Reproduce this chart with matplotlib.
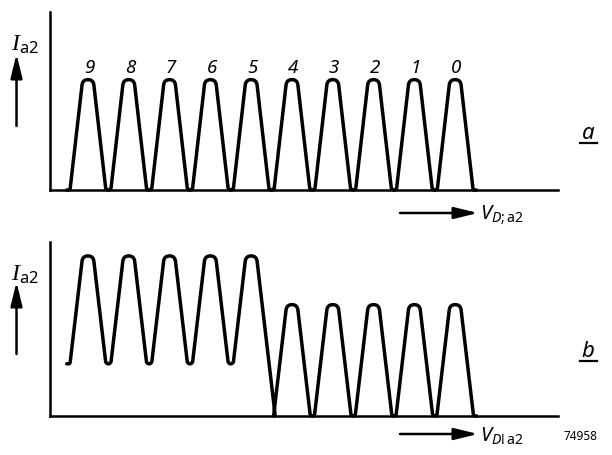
import numpy as np
import matplotlib
matplotlib.use('Agg')
import matplotlib.pyplot as plt
from matplotlib.path import Path
from matplotlib.patches import PathPatch, FancyArrowPatch
from matplotlib.lines import Line2D

# ---------------- data ----------------
digit_labels = ['9', '8', '7', '6', '5', '4', '3', '2', '1', '0']
peak_pos = [1, 2, 3, 4, 5, 6, 7, 8, 9, 10]
peaks_a = [0.62, 0.62, 0.62, 0.62, 0.62, 0.62, 0.62, 0.62, 0.62, 0.62]
# level before first pulse, between pulses, after last pulse
valleys_a = [0.0, 0.0, 0.0, 0.0, 0.0, 0.0, 0.0, 0.0, 0.0, 0.0, 0.0]
peaks_b = [0.92, 0.92, 0.92, 0.92, 0.92, 0.64, 0.64, 0.64, 0.64, 0.64]
valleys_b = [0.30, 0.30, 0.30, 0.30, 0.30, 0.0, 0.0, 0.0, 0.0, 0.0, 0.0]
panel_labels = ['a', 'b']
y_label = r'$\mathtt{I}_{\mathrm{a2}}$'
x_labels = [r'$V_{D;\mathrm{a2}}$', r'$V_{D!\mathrm{a2}}$']
fig_number = '74958'

# ---------------- style ----------------
W, H = 612, 456
TOP_HALF = 0.13     # half width of the pulse top (x units)
SLOPE = 0.50        # x units per y unit on the flanks
XLIM = (0.07, 12.52)
LW = 2.5
plt.rcParams['mathtext.fontset'] = 'custom'
plt.rcParams['mathtext.rm'] = 'Noto Sans:medium'
plt.rcParams['mathtext.it'] = 'Noto Sans:italic:medium'
plt.rcParams['mathtext.tt'] = 'Liberation Serif:italic'
plt.rcParams['font.family'] = ['Noto Sans', 'DejaVu Sans']

fig = plt.figure(figsize=(W / 100, H / 100), dpi=100)


def px_axes(left, right, top, bottom):
    return fig.add_axes([left / W, 1 - bottom / H, (right - left) / W, (bottom - top) / H])


def pulse_vertices(pos, peaks, valleys):
    xs, ys = [], []
    for i, (c, h) in enumerate(zip(pos, peaks)):
        lo_l, lo_r = valleys[i], valleys[i + 1]
        xl = c - TOP_HALF - SLOPE * (h - lo_l)
        xr = c + TOP_HALF + SLOPE * (h - lo_r)
        if i == 0:
            xs.append(xl - 0.08); ys.append(lo_l)
        xs += [xl, c - TOP_HALF, c + TOP_HALF, xr]
        ys += [lo_l, h, h, lo_r]
    xs.append(xs[-1] + 0.08); ys.append(ys[-1])
    return xs, ys


def rounded_path(xs, ys, sx, sy, r):
    P = np.column_stack([np.asarray(xs) * sx, np.asarray(ys) * sy])
    verts, codes = [P[0]], [Path.MOVETO]
    for i in range(1, len(P) - 1):
        a, b, c = P[i - 1], P[i], P[i + 1]
        d1, d2 = a - b, c - b
        l1, l2 = np.hypot(*d1), np.hypot(*d2)
        if l1 < 1e-9 or l2 < 1e-9:
            continue
        rr = min(r, l1 / 2, l2 / 2)
        verts += [b + d1 / l1 * rr, b, b + d2 / l2 * rr]
        codes += [Path.LINETO, Path.CURVE3, Path.CURVE3]
    verts.append(P[-1]); codes.append(Path.LINETO)
    V = np.array(verts) / np.array([sx, sy])
    return Path(V, codes)


panels = [
    dict(box=(50, 558, 13, 191), peaks=peaks_a, valleys=valleys_a),
    dict(box=(50, 558, 243, 417), peaks=peaks_b, valleys=valleys_b),
]
axes = []
for p in panels:
    left, right, top, bottom = p['box']
    ax = px_axes(left, right, top, bottom)
    ax.set_xlim(*XLIM)
    ax.set_ylim(0, 1)
    for s in ['top', 'right']:
        ax.spines[s].set_visible(False)
    for s in ['left', 'bottom']:
        ax.spines[s].set_linewidth(1.8)
    ax.set_xticks([]); ax.set_yticks([])
    ax.patch.set_alpha(0)
    sx = (right - left) / (XLIM[1] - XLIM[0])
    sy = (bottom - top)
    xs, ys = pulse_vertices(peak_pos, p['peaks'], p['valleys'])
    path = rounded_path(xs, ys, sx, sy, 7)
    ax.add_patch(PathPatch(path, facecolor='none', edgecolor='black', lw=LW,
                           capstyle='round', joinstyle='round', clip_on=False))
    axes.append(ax)

# digit labels over the peaks of panel a
for x, h, t in zip(peak_pos, peaks_a, digit_labels):
    axes[0].text(x + 0.03, h + 0.02, t, ha='center', va='bottom', fontsize=13.5,
                 style='italic', fontweight='medium', color='black')


def fpx(x, y):
    return x / W, 1 - y / H


arrow_kw = dict(arrowstyle='-|>,head_length=0.9,head_width=0.22', lw=1.8, color='black',
                mutation_scale=16, shrinkA=0, shrinkB=0)

for k, (ytop, yarrow_tip, yarrow_tail, yx, ylab, yund) in enumerate(
        [(37, 55, 127, 214, 139, 144), (267, 283, 355, 435, 357, 362)]):
    # y label with arrow
    fig.text(*fpx(11, ytop - 5), y_label, ha='left', va='top', fontsize=17)
    fig.add_artist(FancyArrowPatch(
        fpx(16.5, yarrow_tail), fpx(16.5, yarrow_tip), transform=fig.transFigure, **arrow_kw))
    # x label with arrow
    fig.add_artist(FancyArrowPatch(
        fpx(400, yx), fpx(478, yx), transform=fig.transFigure, **arrow_kw))
    fig.text(*fpx(480, yx + 1), x_labels[k], ha='left', va='center', fontsize=14.5)
    # panel letter underlined
    fig.text(*fpx(588, ylab), panel_labels[k], ha='center', va='baseline', fontsize=16,
             style='italic', fontweight='medium')
    fig.add_artist(Line2D([580 / W, 597 / W], [1 - yund / H] * 2, lw=1.6,
                          color='black', transform=fig.transFigure))

fig.text(*fpx(580, 437), fig_number, ha='center', va='center', fontsize=8.5)

fig.savefig('out.png', dpi=100)
